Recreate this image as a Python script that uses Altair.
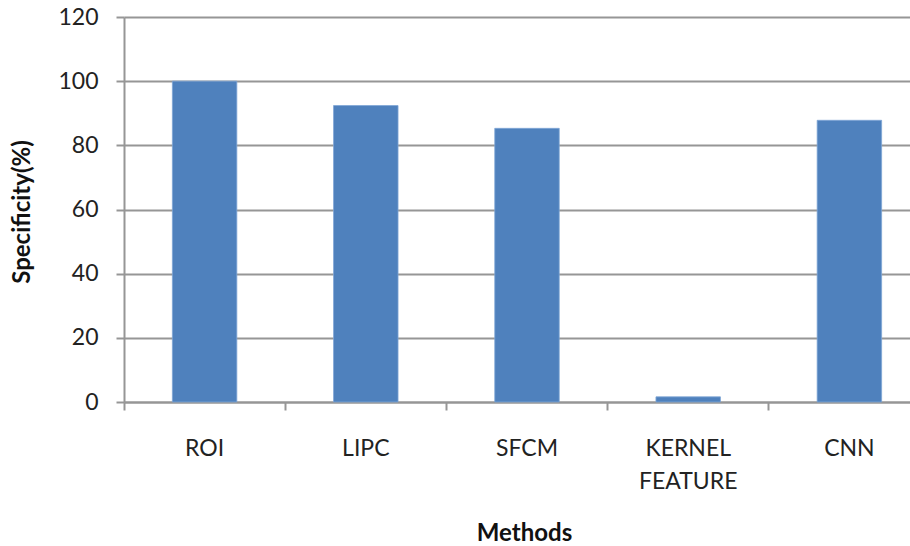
import altair as alt
import pandas as pd

methods = ["ROI", "LIPC", "SFCM", "KERNEL FEATURE", "CNN"]
specificity = [100, 92.4, 85.3, 1.6, 87.8]

df = pd.DataFrame({"method": methods, "value": specificity})

FONT = "Lato"
W, H = 806, 385

chart = alt.Chart(df).mark_bar(color="#4F81BD", stroke="#7FA6D6", strokeWidth=0.8,
                               width=alt.RelativeBandSize(0.4)).encode(
    x=alt.X("method:N", sort=methods, title="Methods",
            scale=alt.Scale(paddingInner=0, paddingOuter=0),
            axis=alt.Axis(labelAngle=0, bandPosition=0, grid=False,
                          domainColor="#969696", domainWidth=2,
                          tickColor="#969696", tickWidth=2, tickSize=8,
                          labelFont=FONT, labelFontSize=23, labelColor="#222222",
                          labelPadding=38, labelLineHeight=33,
                          labelBaseline="middle",
                          labelExpr="split(datum.label, ' ')",
                          titleFont=FONT, titleFontSize=24, titleFontWeight="bold",
                          titleColor="#111111", titleX=W / 2 - 3, titleY=131,
                          titleBaseline="middle")),
    y=alt.Y("value:Q", title="Specificity(%)",
            scale=alt.Scale(domain=[0, 120], nice=False),
            axis=alt.Axis(values=[0, 20, 40, 60, 80, 100, 120],
                          gridColor="#969696", gridWidth=2,
                          domainColor="#969696", domainWidth=2,
                          tickColor="#969696", tickWidth=2, tickSize=8,
                          labelFont=FONT, labelFontSize=23, labelColor="#222222",
                          labelPadding=18,
                          titleFont=FONT, titleFontSize=24, titleFontWeight="bold",
                          titleColor="#111111", titleX=-102, titleY=H / 2 + 2,
                          titleBaseline="middle", titleAngle=270)),
).properties(
    width=W, height=H,
    autosize=alt.AutoSizeParams(type="none"),
    padding={"left": 124, "top": 17, "right": -20, "bottom": 143},
).configure_view(stroke=None)

chart.save("out.html", embed_options={"renderer": "svg", "actions": False})
